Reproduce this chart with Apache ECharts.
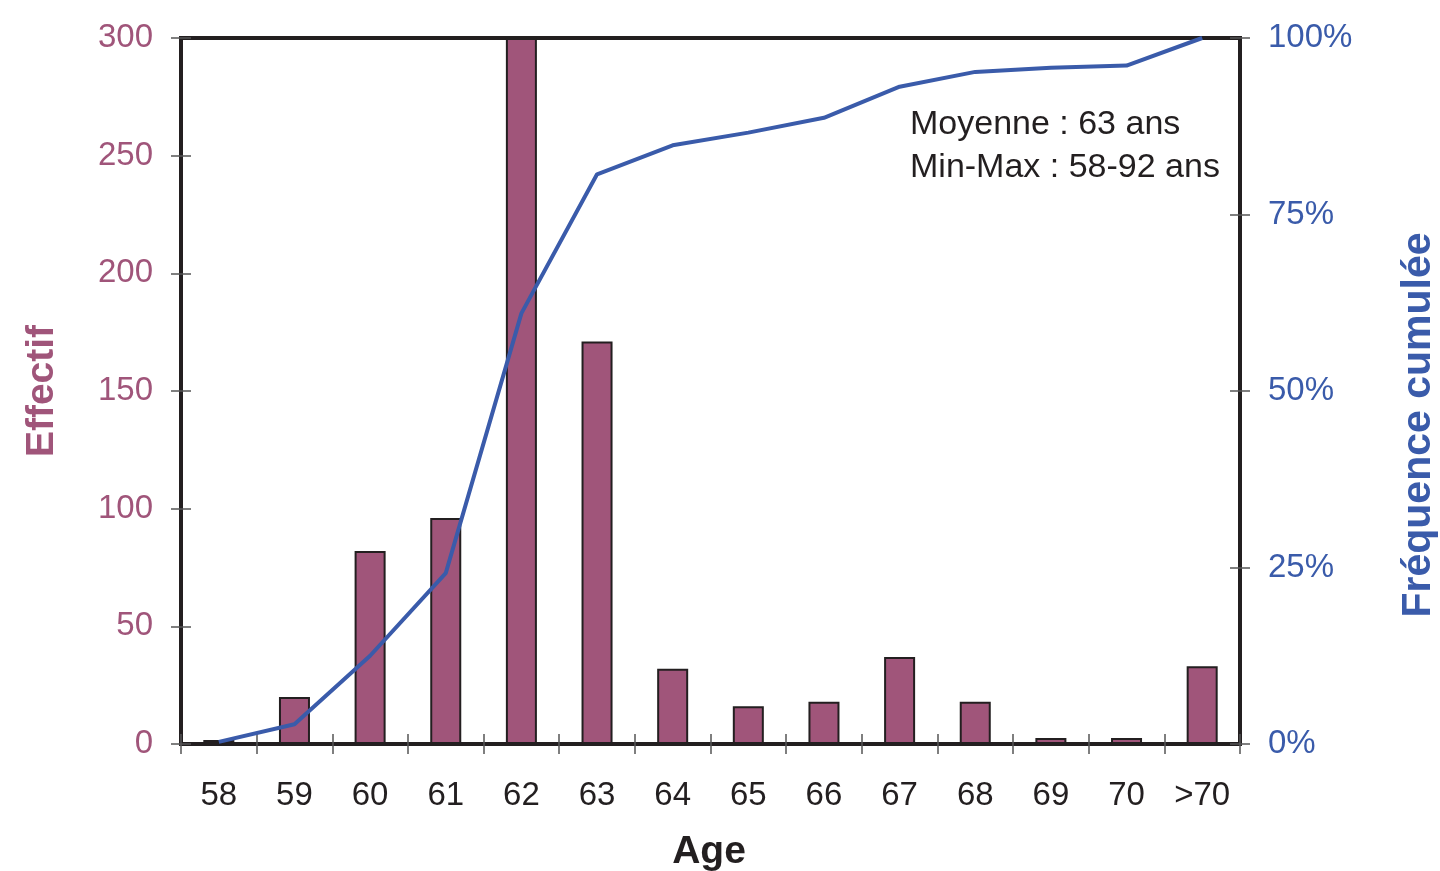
<!DOCTYPE html>
<html><head><meta charset="utf-8">
<script src="https://cdn.jsdelivr.net/npm/echarts@6/dist/echarts.min.js"></script>
<style>html,body{margin:0;padding:0;background:#fff}#c{width:1440px;height:871px}</style>
</head><body><div id="c"></div>
<script>
const categories = ['58','59','60','61','62','63','64','65','66','67','68','69','70','>70'];
const effectif = [1.7, 20, 82, 96, 300, 171, 32, 16, 18, 37, 18, 2.5, 2.5, 33];
const freqCumulee = [0.3, 2.8, 12.5, 24.2, 61, 80.7, 84.8, 86.6, 88.7, 93.1, 95.2, 95.8, 96.1, 100];
const leftTicks = [0, 50, 100, 150, 200, 250, 300];
const rightTicks = [0, 25, 50, 75, 100];
const noteLines = ['Moyenne : 63 ans', 'Min-Max : 58-92 ans'];

const FONT = '"Liberation Sans", Arial, Helvetica, sans-serif';
const PURPLE = '#A0557A', BLUE = '#3A5BAA', DARK = '#231F20', TICK = '#555';

const chart = echarts.init(document.getElementById('c'));
const lmax = leftTicks[leftTicks.length-1], lint = leftTicks[1]-leftTicks[0];
const rmax = rightTicks[rightTicks.length-1], rint = rightTicks[1]-rightTicks[0];

chart.setOption({
  animation: false,
  grid: {left: 181, right: 200, top: 38, bottom: 127, show: true, borderColor: DARK, borderWidth: 4, backgroundColor: 'transparent'},
  graphic: [
    {type: 'text', left: 910, top: 103, style: {text: noteLines.join('\n'), font: '34px ' + FONT, fill: DARK, lineHeight: 43}},
    {type: 'text', x: 42, y: 391, rotation: Math.PI/2, style: {text: 'Effectif', font: 'bold 39px ' + FONT, fill: PURPLE, align: 'center', verticalAlign: 'middle'}},
    {type: 'text', x: 1419, y: 425, rotation: Math.PI/2, style: {text: 'Fréquence cumulée', font: 'bold 41px ' + FONT, fill: BLUE, align: 'center', verticalAlign: 'middle'}},
    {type: 'text', x: 709, y: 852, style: {text: 'Age', font: 'bold 39px ' + FONT, fill: DARK, align: 'center', verticalAlign: 'middle'}}
  ],
  xAxis: [
    {type: 'category', data: categories, boundaryGap: true,
     axisLine: {lineStyle: {color: DARK, width: 4}},
     axisTick: {show: true, inside: false, length: 10, alignWithLabel: false, lineStyle: {color: TICK, width: 1.5}},
     axisLabel: {color: DARK, fontSize: 33, fontFamily: FONT, margin: 35, interval: 0}},
    {type: 'category', data: categories, position: 'bottom', boundaryGap: true,
     axisLine: {show: false}, axisLabel: {show: false},
     axisTick: {show: true, inside: true, length: 10, lineStyle: {color: TICK, width: 1.5}}}
  ],
  yAxis: [
    {type: 'value', min: 0, max: lmax, interval: lint, position: 'left',
     axisLine: {show: true, lineStyle: {color: DARK, width: 4}},
     axisTick: {show: true, length: 10, lineStyle: {color: TICK, width: 1.5}},
     splitLine: {show: false},
     axisLabel: {color: PURPLE, fontSize: 33, fontFamily: FONT, margin: 28}},
    {type: 'value', min: 0, max: rmax, interval: rint, position: 'right',
     axisLine: {show: true, lineStyle: {color: DARK, width: 4}},
     axisTick: {show: true, length: 10, lineStyle: {color: TICK, width: 1.5}},
     splitLine: {show: false},
     axisLabel: {color: BLUE, fontSize: 33, fontFamily: FONT, margin: 28, formatter: '{value}%'}},
    {type: 'value', min: 0, max: lmax, interval: lint, position: 'left',
     axisLine: {show: false}, axisLabel: {show: false}, splitLine: {show: false},
     axisTick: {show: true, inside: true, length: 10, lineStyle: {color: TICK, width: 1.5}}},
    {type: 'value', min: 0, max: rmax, interval: rint, position: 'right',
     axisLine: {show: false}, axisLabel: {show: false}, splitLine: {show: false},
     axisTick: {show: true, inside: true, length: 10, lineStyle: {color: TICK, width: 1.5}}}
  ],
  series: [
    {type: 'bar', name: 'Effectif', data: effectif, xAxisIndex: 0, yAxisIndex: 0, barWidth: '41%',
     itemStyle: {color: PURPLE, borderColor: DARK, borderWidth: 2}},
    {type: 'line', name: 'Fréquence cumulée', data: freqCumulee, xAxisIndex: 0, yAxisIndex: 1,
     showSymbol: false, symbol: 'none', lineStyle: {color: BLUE, width: 4}, z: 5}
  ]
});
</script>
</body></html>
